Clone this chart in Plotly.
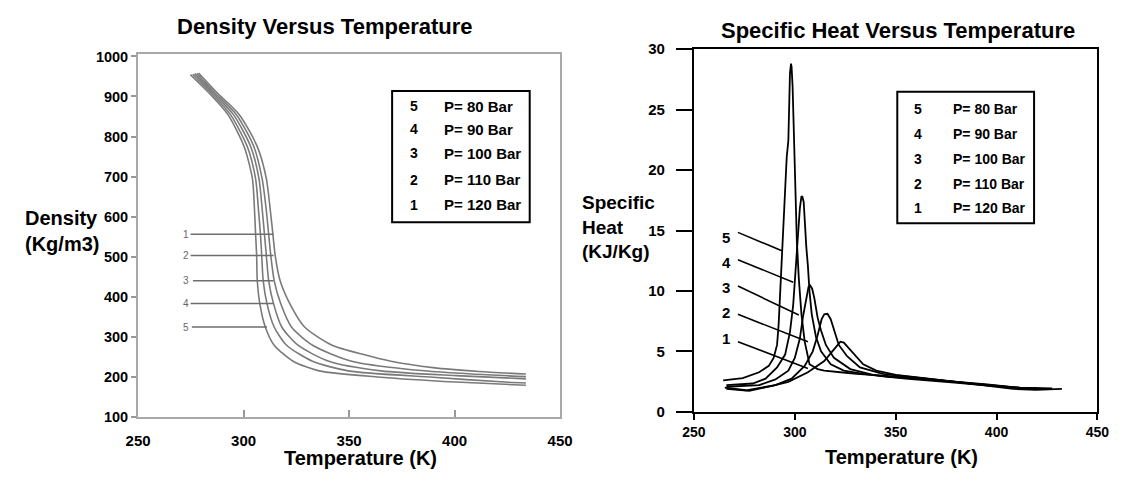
import plotly.graph_objects as go

# ---------------- data: Density vs Temperature ----------------
dens_T_120 = [278.7, 287.2, 298.0, 306.5, 310.8, 312.7, 313.9, 315.0, 317.3, 321.9, 328.9, 342.0, 357.4, 369.8, 389.8, 411.4, 433.8]
dens_R_120 = [958.6, 910.6, 854.6, 774.6, 694.6, 614.6, 556.2, 502.6, 440.2, 382.6, 324.2, 278.6, 254.6, 238.6, 222.6, 213.0, 206.6]
dens_T_110 = [277.8, 286.1, 296.6, 304.9, 308.8, 310.8, 311.9, 312.9, 314.5, 317.6, 322.7, 332.7, 351.2, 377.5, 408.3, 433.8]
dens_R_110 = [957.8, 910.6, 854.6, 774.6, 694.6, 614.6, 556.2, 502.6, 440.2, 382.6, 324.2, 278.6, 238.6, 218.6, 206.6, 200.2]
dens_T_100 = [276.8, 285.2, 295.2, 303.4, 307.3, 308.9, 309.9, 310.8, 311.9, 314.2, 318.1, 325.8, 340.4, 365.1, 400.6, 433.8]
dens_R_100 = [957.0, 910.6, 854.6, 774.6, 694.6, 614.6, 556.2, 502.6, 440.2, 382.6, 324.2, 278.6, 238.6, 214.6, 202.6, 194.6]
dens_T_90 = [275.9, 284.3, 293.8, 301.8, 305.7, 307.1, 308.0, 308.6, 309.3, 311.1, 314.5, 320.4, 332.7, 349.7, 389.8, 423.8, 433.8]
dens_R_90 = [955.4, 910.6, 854.6, 774.6, 694.6, 614.6, 556.2, 502.6, 440.2, 382.6, 324.2, 278.6, 238.6, 214.6, 198.6, 186.6, 184.2]
dens_T_80 = [274.8, 283.3, 292.6, 300.3, 304.2, 305.2, 305.7, 306.2, 306.5, 307.7, 310.3, 314.5, 323.5, 335.8, 365.1, 400.6, 433.8]
dens_R_80 = [954.6, 910.6, 854.6, 774.6, 694.6, 614.6, 556.2, 502.6, 440.2, 382.6, 324.2, 278.6, 238.6, 214.6, 198.6, 186.6, 178.6]

# callout labels (density chart)
dens_lbl_text = ["1", "2", "3", "4", "5"]
dens_lbl_rho = [556.0, 502.6, 440.0, 382.6, 324.0]
dens_lbl_T = [272.8, 272.8, 272.8, 272.8, 272.8]
dens_line_T0 = [274.9, 274.9, 276.0, 274.9, 275.5]
dens_line_T1 = [314.2, 314.2, 314.2, 314.2, 311.1]

# ---------------- data: Specific Heat vs Temperature ----------------
cp_T_80 = [264.5, 274.2, 282.3, 287.1, 289.5, 291.2, 292.0, 292.8, 293.6, 294.9, 296.0, 296.8, 297.3, 297.6, 298.1, 298.4, 298.9, 299.2, 299.7, 300.4, 301.0, 302.0, 303.3, 304.9, 307.3, 311.3, 314.6, 322.6, 330.7, 346.9, 363.0, 379.1, 395.3, 411.4, 427.6]
cp_C_80 = [2.61, 2.80, 3.28, 3.81, 4.47, 5.54, 7.27, 9.93, 13.38, 17.37, 21.10, 22.43, 26.15, 28.01, 28.81, 28.54, 26.95, 25.35, 21.36, 17.91, 14.18, 10.99, 8.07, 5.81, 3.94, 3.54, 3.41, 3.28, 3.15, 2.96, 2.75, 2.48, 2.27, 2.00, 1.95]
cp_T_90 = [266.1, 279.1, 285.5, 291.2, 295.2, 297.6, 299.2, 300.0, 300.8, 301.7, 302.5, 303.3, 303.8, 304.4, 304.9, 305.7, 306.5, 307.3, 308.4, 310.5, 313.0, 317.8, 324.3, 333.9, 346.9, 363.0, 379.1, 395.3, 411.4, 424.3]
cp_C_90 = [2.21, 2.35, 2.75, 3.68, 4.74, 6.60, 8.86, 10.99, 12.85, 15.25, 16.84, 17.85, 17.77, 17.37, 15.78, 13.65, 12.06, 9.93, 8.07, 6.20, 5.01, 3.94, 3.41, 3.15, 2.88, 2.75, 2.48, 2.21, 1.95, 1.90]
cp_T_100 = [266.1, 282.3, 290.4, 296.8, 300.0, 302.5, 304.1, 305.7, 306.8, 307.6, 308.6, 309.7, 311.3, 313.0, 315.4, 319.4, 327.5, 338.8, 354.9, 379.1, 403.3, 421.1]
cp_C_100 = [2.08, 2.21, 2.69, 3.41, 4.47, 6.07, 7.93, 9.53, 10.33, 10.46, 10.19, 9.39, 7.80, 6.74, 5.54, 4.47, 3.54, 3.07, 2.75, 2.43, 2.08, 1.90]
cp_T_110 = [265.3, 275.8, 290.4, 298.4, 304.9, 308.9, 311.3, 313.3, 314.6, 316.2, 317.8, 319.4, 321.8, 325.9, 332.3, 343.6, 363.0, 387.2, 411.4, 422.7]
cp_C_110 = [2.00, 1.79, 2.21, 2.75, 3.81, 5.01, 6.34, 7.67, 8.07, 8.12, 7.67, 6.74, 5.54, 4.61, 3.68, 3.15, 2.80, 2.35, 2.00, 1.90]
cp_T_120 = [266.1, 277.4, 288.7, 296.8, 306.5, 314.6, 318.6, 321.0, 322.6, 324.3, 326.7, 329.1, 333.9, 340.4, 350.1, 366.2, 387.2, 408.2, 419.5, 432.4]
cp_C_120 = [1.90, 1.74, 2.16, 2.48, 3.28, 4.21, 5.01, 5.54, 5.81, 5.73, 5.27, 4.87, 3.94, 3.41, 3.07, 2.75, 2.35, 1.90, 1.82, 1.90]

# callout labels (specific heat chart)
cp_lbl_text = ["5", "4", "3", "2", "1"]
cp_lbl_T = [266.1, 266.1, 266.1, 266.1, 266.1]
cp_lbl_C = [14.45, 12.37, 10.33, 8.20, 6.07]
cp_line_T0 = [271.8, 271.8, 271.8, 271.8, 271.8]
cp_line_C0 = [14.85, 12.59, 10.41, 8.07, 5.81]
cp_line_T1 = [293.6, 299.2, 302.0, 306.5, 306.5]
cp_line_C1 = [13.33, 10.73, 8.01, 5.81, 3.60]

# legend table
leg_num = ["5", "4", "3", "2", "1"]
leg_txt = ["P= 80 Bar", "P= 90 Bar", "P= 100 Bar", "P= 110 Bar", "P= 120 Bar"]

FONT = "Liberation Sans, Arial, sans-serif"
fig = go.Figure()

dens_series = [(dens_T_120, dens_R_120), (dens_T_110, dens_R_110), (dens_T_100, dens_R_100),
               (dens_T_90, dens_R_90), (dens_T_80, dens_R_80)]
for tx, ry in dens_series:
    fig.add_trace(go.Scatter(x=tx, y=ry, mode="lines", xaxis="x", yaxis="y",
                             line=dict(color="#7a7a7a", width=1.6, shape="spline", smoothing=0.7),
                             showlegend=False, hoverinfo="skip"))
for t0, t1, r in zip(dens_line_T0, dens_line_T1, dens_lbl_rho):
    fig.add_trace(go.Scatter(x=[t0, t1], y=[r, r], mode="lines", xaxis="x", yaxis="y",
                             line=dict(color="#6e6e6e", width=1.5), showlegend=False, hoverinfo="skip"))

cp_series = [(cp_T_80, cp_C_80), (cp_T_90, cp_C_90), (cp_T_100, cp_C_100),
             (cp_T_110, cp_C_110), (cp_T_120, cp_C_120)]
for tx, cy in cp_series:
    fig.add_trace(go.Scatter(x=tx, y=cy, mode="lines", xaxis="x2", yaxis="y2",
                             line=dict(color="black", width=1.8),
                             showlegend=False, hoverinfo="skip"))
for t0, c0, t1, c1 in zip(cp_line_T0, cp_line_C0, cp_line_T1, cp_line_C1):
    fig.add_trace(go.Scatter(x=[t0, t1], y=[c0, c1], mode="lines", xaxis="x2", yaxis="y2",
                             line=dict(color="black", width=1.6), showlegend=False, hoverinfo="skip"))

annotations = []
for t, r, s in zip(dens_lbl_T, dens_lbl_rho, dens_lbl_text):
    annotations.append(dict(x=t, y=r, xref="x", yref="y", text=s, showarrow=False,
                            font=dict(family=FONT, size=10, color="#666666"), xanchor="center", yanchor="middle"))
for t, c, s in zip(cp_lbl_T, cp_lbl_C, cp_lbl_text):
    annotations.append(dict(x=t, y=c, xref="x2", yref="y2", text="<b>%s</b>" % s, showarrow=False,
                            font=dict(family=FONT, size=15, color="black"), xanchor="center", yanchor="middle"))

# legend tables
left_rows = [0.856, 0.792, 0.726, 0.653, 0.584]
right_rows = [0.835, 0.767, 0.698, 0.628, 0.561]
for n, t, yy in zip(leg_num, leg_txt, left_rows):
    annotations.append(dict(x=0.653, y=yy, xref="x domain", yref="y domain", text="<b>%s</b>" % n,
                            showarrow=False, font=dict(family=FONT, size=14, color="black"),
                            xanchor="center", yanchor="middle"))
    annotations.append(dict(x=0.72, y=yy, xref="x domain", yref="y domain", text="<b>%s</b>" % t,
                            showarrow=False, font=dict(family=FONT, size=15, color="black"),
                            xanchor="left", yanchor="middle"))
for n, t, yy in zip(leg_num, leg_txt, right_rows):
    annotations.append(dict(x=0.556, y=yy, xref="x2 domain", yref="y2 domain", text="<b>%s</b>" % n,
                            showarrow=False, font=dict(family=FONT, size=14, color="black"),
                            xanchor="center", yanchor="middle"))
    annotations.append(dict(x=0.636, y=yy, xref="x2 domain", yref="y2 domain", text="<b>%s</b>" % t,
                            showarrow=False, font=dict(family=FONT, size=14, color="black"),
                            xanchor="left", yanchor="middle"))

# titles
annotations += [
    dict(x=319 / 1128, y=1 - 18 / 480, xref="paper", yref="paper", text="<b>Density Versus Temperature</b>",
         showarrow=False, font=dict(family=FONT, size=22, color="black"), xanchor="center", yanchor="middle"),
    dict(x=906 / 1128, y=1 - 22 / 480, xref="paper", yref="paper", text="<b>Specific Heat Versus Temperature</b>",
         showarrow=False, font=dict(family=FONT, size=22, color="black"), xanchor="center", yanchor="middle"),
    dict(x=356 / 1128, y=1 - 466 / 480, xref="paper", yref="paper", text="<b>Temperature (K)</b>",
         showarrow=False, font=dict(family=FONT, size=20, color="black"), xanchor="center", yanchor="middle"),
    dict(x=909 / 1128, y=1 - 464 / 480, xref="paper", yref="paper", text="<b>Temperature (K)</b>",
         showarrow=False, font=dict(family=FONT, size=20, color="black"), xanchor="center", yanchor="middle"),
    dict(x=10 / 1128, y=1 - 230.5 / 480, xref="paper", yref="paper", text="<b>Density<br>(Kg/m3)</b>",
         showarrow=False, align="left", font=dict(family=FONT, size=20, color="black"),
         xanchor="left", yanchor="middle"),
    dict(x=580 / 1128, y=1 - 226.5 / 480, xref="paper", yref="paper", text="<b>Specific<br>Heat<br>(KJ/Kg)</b>",
         showarrow=False, align="left", font=dict(family=FONT, size=19, color="black"),
         xanchor="left", yanchor="middle"),
]

shapes = [
    dict(type="rect", xref="x domain", yref="y domain", x0=0.602, x1=0.928, y0=0.536, y1=0.898,
         line=dict(color="black", width=2), fillcolor="white", layer="below"),
    dict(type="rect", xref="x2 domain", yref="y2 domain", x0=0.504, x1=0.843, y0=0.520, y1=0.883,
         line=dict(color="black", width=2), fillcolor="white", layer="below"),
]

tickfont = dict(family=FONT, size=15, color="black", weight="bold")

fig.update_layout(
    width=1128, height=480,
    margin=dict(l=0, r=0, t=0, b=0),
    paper_bgcolor="white", plot_bgcolor="white",
    showlegend=False,
    xaxis=dict(domain=[128 / 1128, 560 / 1128], range=[250, 450], tick0=250, dtick=50,
               ticks="inside", ticklen=7, tickwidth=1.5, tickcolor="#999999",
               showline=True, linecolor="#a8a8a8", linewidth=2, mirror=True,
               showgrid=False, zeroline=False, tickfont=tickfont, ticklabelstandoff=9, anchor="y"),
    yaxis=dict(domain=[1 - 422.7 / 480, 1 - 46.7 / 480], range=[100, 1006], tick0=100, dtick=100,
               ticks="outside", ticklen=5, tickwidth=1.5, tickcolor="#999999",
               showline=True, linecolor="#a8a8a8", linewidth=2, mirror=True,
               showgrid=False, zeroline=False, tickfont=dict(family=FONT, size=14.5, color="black", weight="bold"),
               anchor="x"),
    xaxis2=dict(domain=[697 / 1128, 1110 / 1128], range=[250, 450], tick0=250, dtick=50,
                ticks="outside", ticklen=6, tickwidth=2, tickcolor="black",
                showline=True, linecolor="black", linewidth=2, mirror=True,
                showgrid=False, zeroline=False, tickfont=dict(family=FONT, size=14, color="black", weight="bold"),
                anchor="y2"),
    yaxis2=dict(domain=[1 - 417.7 / 480, 1 - 41.7 / 480], range=[0, 30], tick0=0, dtick=5,
                ticks="outside", ticklen=16, tickwidth=2, tickcolor="black",
                showline=True, linecolor="black", linewidth=2, mirror=True,
                showgrid=False, zeroline=False, tickfont=dict(family=FONT, size=15, color="black", weight="bold"),
                ticklabelstandoff=8, anchor="x2"),
    annotations=annotations,
    shapes=shapes,
)

fig.write_html("out.html")
